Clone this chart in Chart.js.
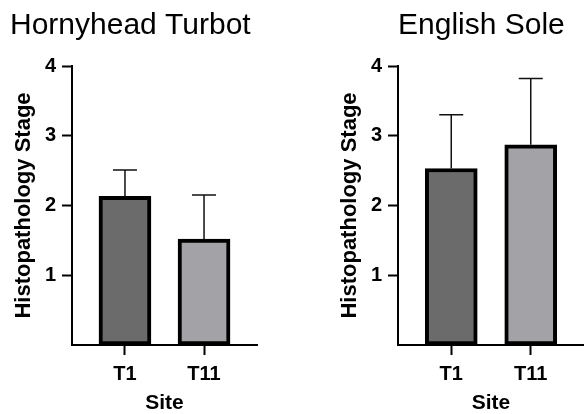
<!DOCTYPE html>
<html>
<head>
<meta charset="utf-8">
<script src="https://cdn.jsdelivr.net/npm/chart.js@4"></script>
<style>
  body { margin: 0; background: #fff; }
  canvas { position: absolute; top: 0; }
  #turbot { left: 0; }
  #sole { left: 326px; }
</style>
</head>
<body>
<canvas id="turbot" width="270" height="414"></canvas>
<canvas id="sole" width="258" height="414"></canvas>
<script>
const sites = ['T1', 'T11'];
const turbotMeans = [2.13, 1.52];
const turbotErrors = [0.38, 0.63];
const soleMeans = [2.53, 2.87];
const soleErrors = [0.77, 0.95];
const yTicks = [1, 2, 3, 4];
const barColors = ['#6b6b6b', '#a3a3a7'];

const family = '"Liberation Sans", Arial, sans-serif';

// only the upper half of the error bar, as in the original figure
const errorBars = {
    id: 'errorBars',
    afterDatasetsDraw(chart) {
        const ctx = chart.ctx;
        const y = chart.scales.y;
        const ds = chart.data.datasets[0];
        ctx.save();
        ctx.strokeStyle = '#111';
        ctx.lineWidth = 1.5;
        chart.getDatasetMeta(0).data.forEach((bar, i) => {
            const top = y.getPixelForValue(ds.data[i].y + ds.errors[i]);
            ctx.beginPath();
            ctx.moveTo(bar.x, bar.y);
            ctx.lineTo(bar.x, top);
            ctx.moveTo(bar.x - 12, top);
            ctx.lineTo(bar.x + 12, top);
            ctx.stroke();
        });
        ctx.restore();
    }
};

function makeChart(id, title, means, errors, fullTitle, pad) {
    new Chart(document.getElementById(id), {
        type: 'bar',
        data: {
            datasets: [{
                data: means.map((v, i) => ({ x: i, y: v })),
                errors: errors,
                backgroundColor: barColors,
                borderColor: '#000',
                borderWidth: 4,
                borderSkipped: false,
                barThickness: 52
            }]
        },
        options: {
            responsive: false,
            animation: false,
            devicePixelRatio: 1,
            layout: { padding: pad },
            plugins: {
                legend: { display: false },
                tooltip: { enabled: false },
                title: {
                    display: true,
                    text: title,
                    align: 'start',
                    fullSize: fullTitle,
                    color: '#000',
                    font: { family: family, size: 30, weight: 'normal' },
                    padding: { top: 8, bottom: 22 }
                }
            },
            scales: {
                x: {
                    type: 'linear',
                    min: -0.67,
                    max: 1.67,
                    offset: false,
                    afterBuildTicks: s => { s.ticks = sites.map((_, i) => ({ value: i })); },
                    afterFit: s => { s.height = 69; },
                    ticks: {
                        callback: v => sites[v],
                        color: '#000',
                        padding: 7,
                        maxRotation: 0,
                        autoSkip: false,
                        font: { family: family, size: 20, weight: 'bold' }
                    },
                    grid: {
                        offset: false,
                        drawOnChartArea: false,
                        tickLength: 10,
                        tickColor: '#000',
                        tickWidth: 2
                    },
                    border: { color: '#000', width: 2 },
                    title: {
                        display: true,
                        text: 'Site',
                        color: '#000',
                        font: { family: family, size: 21, weight: 'bold', lineHeight: 1 },
                        padding: { top: 0, bottom: 0 }
                    }
                },
                y: {
                    min: 0,
                    max: 4,
                    afterBuildTicks: s => { s.ticks = yTicks.map(v => ({ value: v })); },
                    afterFit: s => { s.width = 62; },
                    ticks: {
                        color: '#000',
                        padding: 6,
                        font: { family: family, size: 20, weight: 'bold' }
                    },
                    grid: {
                        drawOnChartArea: false,
                        tickLength: 10,
                        tickColor: '#000',
                        tickWidth: 2
                    },
                    border: { color: '#000', width: 2 },
                    title: {
                        display: true,
                        text: 'Histopathology Stage',
                        color: '#000',
                        font: { family: family, size: 22, weight: 'bold' },
                        padding: { top: 1, bottom: 0 }
                    }
                }
            }
        },
        plugins: [errorBars]
    });
}

makeChart('turbot', 'Hornyhead Turbot', turbotMeans, turbotErrors, true, { left: 10, right: 13, top: 0, bottom: 0 });
makeChart('sole', 'English Sole', soleMeans, soleErrors, false, { left: 10, right: 0, top: 0, bottom: 0 });
</script>
</body>
</html>
